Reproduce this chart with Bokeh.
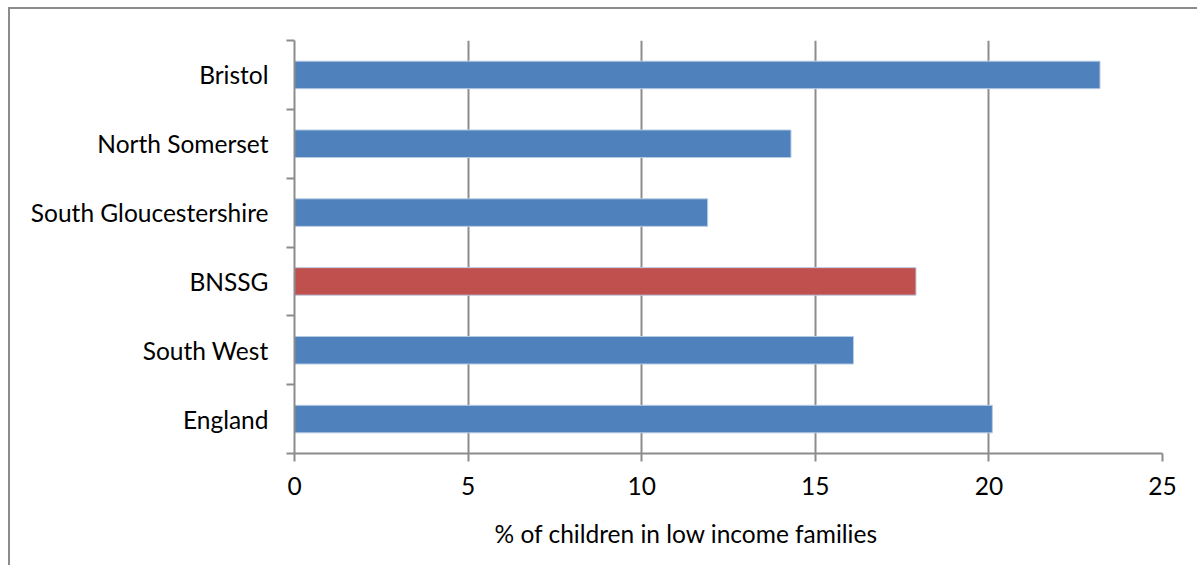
from bokeh.plotting import figure
from bokeh.models import FixedTicker, Range1d, Title
from bokeh.embed import file_html
from bokeh.resources import INLINE

# Data (bottom to top)
categories = ["England", "South West", "BNSSG", "South Gloucestershire", "North Somerset", "Bristol"]
values = [20.1, 16.1, 17.9, 11.9, 14.3, 23.2]
colors = ["#4f81bd", "#4f81bd", "#c0504d", "#4f81bd", "#4f81bd", "#4f81bd"]
x_ticks = [0, 5, 10, 15, 20, 25]
x_title = "% of children in low income families"

FONT = "Lato"
FS = "24.5px"
GRAY = "#8c8c8c"

centers = [i + 0.5 for i in range(len(categories))]
edges = [i for i in range(len(categories) + 1)]

p = figure(width=1189, height=558, output_backend="svg", toolbar_location=None,
           x_range=Range1d(0, 25), y_range=Range1d(0, len(categories)),
           min_border_left=284, min_border_right=37, min_border_top=31, min_border_bottom=112)
p.margin = (7, 0, 0, 8)
p.styles = {"border-left": "2px solid #8c8c8c", "border-top": "2px solid #8c8c8c"}

p.hbar(y=centers, right=values, left=0, height=0.4, fill_color=colors,
       line_color="#b8cce4", line_width=1)

p.outline_line_color = None
p.background_fill_color = "white"
p.border_fill_color = "white"

# x axis
p.xaxis.ticker = FixedTicker(ticks=x_ticks)
p.xaxis.axis_line_color = GRAY
p.xaxis.axis_line_width = 2
p.xaxis.major_tick_line_color = GRAY
p.xaxis.major_tick_line_width = 2
p.xaxis.major_tick_out = 8
p.xaxis.major_tick_in = 0
p.xaxis.minor_tick_line_color = None
p.xaxis.major_label_text_font = FONT
p.xaxis.major_label_text_font_size = FS
p.xaxis.major_label_text_color = "black"
p.xaxis.major_label_standoff = 15

# y axis
p.yaxis.ticker = FixedTicker(ticks=centers, minor_ticks=edges)
p.yaxis.major_label_overrides = {c: name for c, name in zip(centers, categories)}
p.yaxis.axis_line_color = GRAY
p.yaxis.axis_line_width = 2
p.yaxis.major_tick_line_color = None
p.yaxis.major_tick_out = 8
p.yaxis.major_tick_in = 0
p.yaxis.minor_tick_line_color = GRAY
p.yaxis.minor_tick_line_width = 2
p.yaxis.minor_tick_out = 8
p.yaxis.minor_tick_in = 0
p.yaxis.major_label_text_font = FONT
p.yaxis.major_label_text_font_size = FS
p.yaxis.major_label_text_color = "black"
p.yaxis.major_label_standoff = 18

# grid
p.xgrid.ticker = FixedTicker(ticks=x_ticks)
p.xgrid.grid_line_color = GRAY
p.xgrid.grid_line_width = 2
p.ygrid.grid_line_color = None

# axis title
t = Title(text=x_title, align="left", offset=200, text_font=FONT, text_font_size=FS,
          text_font_style="normal", text_color="black", standoff=39)
p.add_layout(t, "below")

open("out.html", "w").write(file_html(p, INLINE))
